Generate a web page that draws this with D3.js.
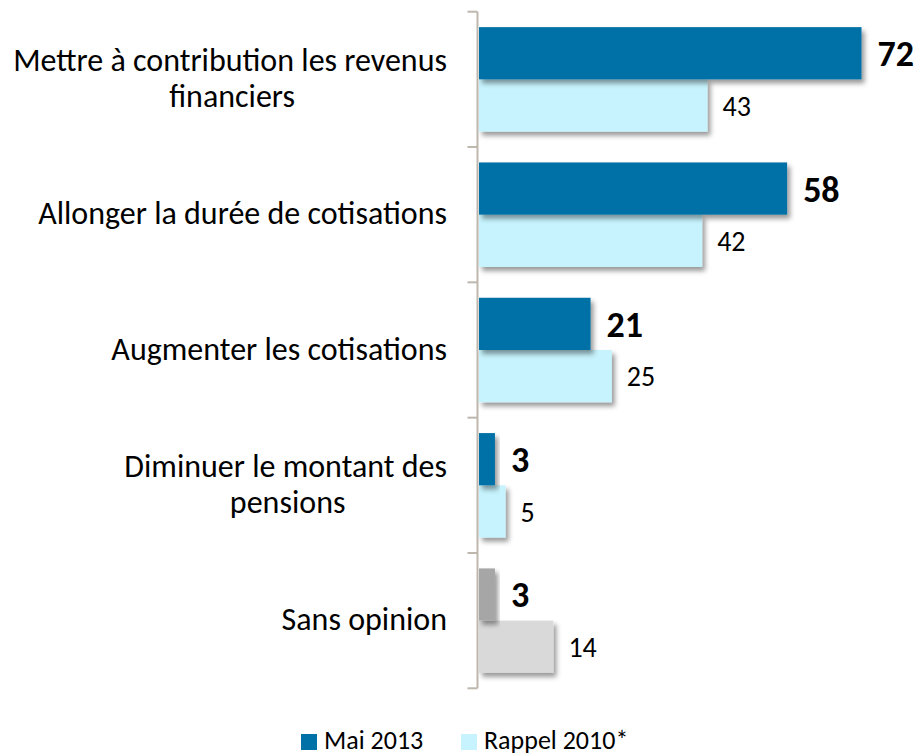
<!DOCTYPE html>
<html>
<head>
<meta charset="utf-8">
<script src="https://cdn.jsdelivr.net/npm/d3@7"></script>
<style>
  body { margin: 0; background: #fff; }
  svg text { font-family: Calibri, Carlito, Lato, sans-serif; fill: #000; }
</style>
</head>
<body>
<div class="chart"></div>
<script>
const categories = [
  ["Mettre à contribution les revenus", "financiers"],
  ["Allonger la durée de cotisations"],
  ["Augmenter les cotisations"],
  ["Diminuer le montant des", "pensions"],
  ["Sans opinion"]
]
const seriesNames = ["Mai 2013", "Rappel 2010*"]
const mai2013 = [72, 58, 21, 3, 3]
const rappel2010 = [43, 42, 25, 5, 14]

const width = 918, height = 755

const colors = { "Mai 2013": "#0071a7", "Rappel 2010*": "#c6f3fd" }
const greyColors = { "Mai 2013": "#a6a6a6", "Rappel 2010*": "#d9d9d9" }

const svg = d3.select(".chart")
  .append("svg")
  .attr("width", width)
  .attr("height", height)

// drop shadow like the office chart
svg.append("defs")
  .append("filter")
  .attr("id", "shadow")
  .attr("x", "-20%").attr("y", "-20%")
  .attr("width", "150%").attr("height", "160%")
  .append("feDropShadow")
  .attr("dx", 3).attr("dy", 4)
  .attr("stdDeviation", 2.5)
  .attr("flood-color", "#000")
  .attr("flood-opacity", 0.4)

const keys = categories.map((d, i) => i)

const yScale = d3.scaleBand()
  .domain(keys)
  .range([11.7, 688.3])
  .paddingInner(0.228)
  .paddingOuter(0.114)

const ySub = d3.scaleBand()
  .domain(seriesNames)
  .range([0, yScale.bandwidth()])

const xScale = d3.scaleLinear()
  .domain([0, 80])
  .range([479, 904])

const axisX = 477.5

const rows = keys.map(i => ({
  i,
  values: [
    { key: "Mai 2013", v: mai2013[i] },
    { key: "Rappel 2010*", v: rappel2010[i] }
  ]
}))

const groups = svg.selectAll(".cat")
  .data(rows)
  .join("g")
  .attr("class", "cat")
  .attr("transform", d => `translate(0,${yScale(d.i)})`)

// bars, drawn bottom first so the shadow of the upper bar sits on the lower
groups.selectAll("rect")
  .data(d => d.values.map(v => ({ ...v, last: d.i === categories.length - 1 })).reverse())
  .join("rect")
  .attr("x", xScale(0))
  .attr("y", d => ySub(d.key))
  .attr("width", d => xScale(d.v) - xScale(0))
  .attr("height", ySub.bandwidth())
  .attr("fill", d => d.last ? greyColors[d.key] : colors[d.key])
  .attr("filter", "url(#shadow)")

groups.selectAll(".val")
  .data(d => d.values)
  .join("text")
  .attr("class", "val")
  .attr("x", d => xScale(d.v) + (d.key === "Mai 2013" ? 16 : 15))
  .attr("y", d => ySub(d.key) + ySub.bandwidth() / 2)
  .attr("dy", "0.36em")
  .attr("font-size", d => d.key === "Mai 2013" ? 36 : 28)
  .attr("font-weight", d => d.key === "Mai 2013" ? "bold" : "normal")
  .text(d => d.v)

// category labels
const labelX = 447
const labelSize = 32
groups.each(function(d) {
  const lines = categories[d.i]
  const g = d3.select(this)
  const cy = yScale.bandwidth() / 2
  const lh = 35.5
  const first = g.append("text")
    .attr("class", "cat-label")
    .attr("x", labelX)
    .attr("y", cy - (lines.length - 1) * lh / 2)
    .attr("dy", "0.3em")
    .attr("text-anchor", "end")
    .attr("font-size", labelSize)
    .text(lines[0])
  if (lines.length > 1) {
    const w = first.node().getComputedTextLength()
    g.append("text")
      .attr("x", labelX - w / 2 + 2)
      .attr("y", cy + lh / 2)
      .attr("dy", "0.3em")
      .attr("text-anchor", "middle")
      .attr("font-size", labelSize)
      .text(lines[1])
  }
})

// axis line with ticks at category boundaries
const step = yScale.step()
const bounds = d3.range(categories.length + 1).map(i => yScale.range()[0] + i * step)

svg.append("line")
  .attr("x1", axisX).attr("x2", axisX)
  .attr("y1", bounds[0]).attr("y2", bounds[bounds.length - 1])
  .attr("stroke", "#bdb7ae")
  .attr("stroke-width", 2)

svg.selectAll(".tick")
  .data(bounds)
  .join("line")
  .attr("class", "tick")
  .attr("x1", axisX - 10).attr("x2", axisX)
  .attr("y1", d => d).attr("y2", d => d)
  .attr("stroke", "#bdb7ae")
  .attr("stroke-width", 2)

// legend
const legendX = [301, 461]
const legend = svg.selectAll(".legend")
  .data(seriesNames)
  .join("g")
  .attr("class", "legend")
  .attr("transform", (d, i) => `translate(${legendX[i]},734)`)

legend.append("rect")
  .attr("width", 16).attr("height", 16)
  .attr("fill", d => colors[d])

legend.append("text")
  .attr("x", 23)
  .attr("y", 15)
  .attr("font-size", 26)
  .text(d => d)
</script>
</body>
</html>
